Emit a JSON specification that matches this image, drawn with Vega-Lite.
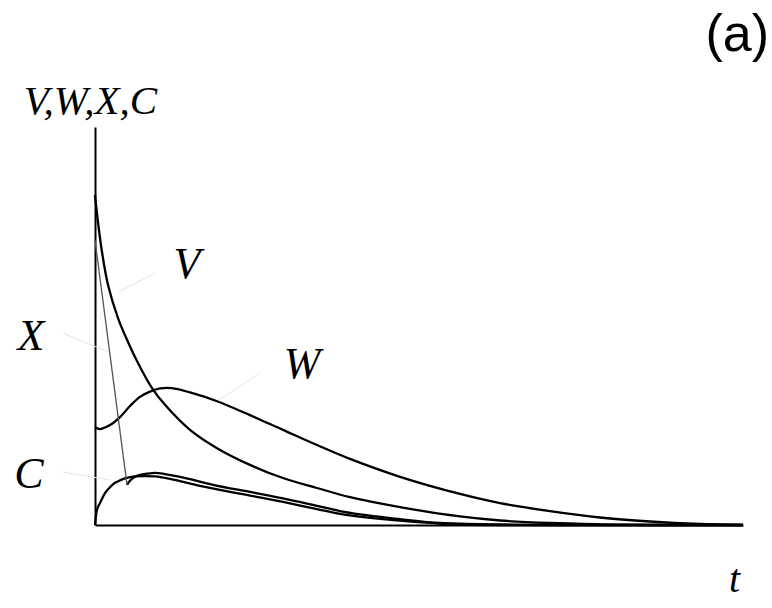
{
  "$schema": "https://vega.github.io/schema/vega-lite/v6.json",
  "width": 648,
  "height": 398,
  "autosize": {"type": "none"},
  "padding": {"left": 95, "top": 127, "right": 29, "bottom": 83},
  "background": "white",
  "config": {
    "view": {"stroke": null},
    "axis": {"grid": false, "ticks": false, "labels": false, "domainColor": "#000", "domainWidth": 2}
  },
  "title": {
    "text": "(a)",
    "anchor": "end",
    "frame": "group",
    "font": "Liberation Sans Narrow, Liberation Sans",
    "fontSize": 52,
    "fontWeight": "normal",
    "color": "#000",
    "baseline": "alphabetic",
    "dx": 26,
    "dy": 27
  },
  "datasets": {
    "curves": [
      {"series": "V", "t": 0, "v": 0.829},
      {"series": "V", "t": 0.046, "v": 0.761},
      {"series": "V", "t": 0.108, "v": 0.686},
      {"series": "V", "t": 0.201, "v": 0.603},
      {"series": "V", "t": 0.355, "v": 0.52},
      {"series": "V", "t": 0.509, "v": 0.46},
      {"series": "V", "t": 0.664, "v": 0.407},
      {"series": "V", "t": 0.88, "v": 0.344},
      {"series": "V", "t": 1.08, "v": 0.302},
      {"series": "V", "t": 1.466, "v": 0.239},
      {"series": "V", "t": 1.883, "v": 0.193},
      {"series": "V", "t": 2.392, "v": 0.151},
      {"series": "V", "t": 2.901, "v": 0.118},
      {"series": "V", "t": 3.426, "v": 0.093},
      {"series": "V", "t": 3.935, "v": 0.07},
      {"series": "V", "t": 4.707, "v": 0.045},
      {"series": "V", "t": 5.633, "v": 0.0214},
      {"series": "V", "t": 6.25, "v": 0.0113},
      {"series": "V", "t": 7.022, "v": 0.005},
      {"series": "V", "t": 7.793, "v": 0.0018},
      {"series": "V", "t": 8.565, "v": 0},
      {"series": "V", "t": 10, "v": 0},
      {"series": "W", "t": 0, "v": 0.246},
      {"series": "W", "t": 0.077, "v": 0.241},
      {"series": "W", "t": 0.231, "v": 0.251},
      {"series": "W", "t": 0.386, "v": 0.271},
      {"series": "W", "t": 0.54, "v": 0.299},
      {"series": "W", "t": 0.694, "v": 0.322},
      {"series": "W", "t": 0.849, "v": 0.335},
      {"series": "W", "t": 1.003, "v": 0.343},
      {"series": "W", "t": 1.188, "v": 0.344},
      {"series": "W", "t": 1.466, "v": 0.333},
      {"series": "W", "t": 1.883, "v": 0.311},
      {"series": "W", "t": 2.392, "v": 0.276},
      {"series": "W", "t": 2.901, "v": 0.239},
      {"series": "W", "t": 3.426, "v": 0.201},
      {"series": "W", "t": 3.935, "v": 0.166},
      {"series": "W", "t": 4.707, "v": 0.121},
      {"series": "W", "t": 5.633, "v": 0.078},
      {"series": "W", "t": 6.25, "v": 0.055},
      {"series": "W", "t": 7.022, "v": 0.035},
      {"series": "W", "t": 7.793, "v": 0.0188},
      {"series": "W", "t": 8.565, "v": 0.0088},
      {"series": "W", "t": 9.336, "v": 0.0025},
      {"series": "W", "t": 10, "v": 0},
      {"series": "C", "t": 0, "v": 0},
      {"series": "C", "t": 0.015, "v": 0.023},
      {"series": "C", "t": 0.031, "v": 0.038},
      {"series": "C", "t": 0.077, "v": 0.055},
      {"series": "C", "t": 0.154, "v": 0.08},
      {"series": "C", "t": 0.231, "v": 0.095},
      {"series": "C", "t": 0.309, "v": 0.106},
      {"series": "C", "t": 0.386, "v": 0.112},
      {"series": "C", "t": 0.463, "v": 0.117},
      {"series": "C", "t": 0.617, "v": 0.122},
      {"series": "C", "t": 0.772, "v": 0.123},
      {"series": "C", "t": 0.926, "v": 0.122},
      {"series": "C", "t": 1.157, "v": 0.116},
      {"series": "C", "t": 1.62, "v": 0.098},
      {"series": "C", "t": 2.392, "v": 0.074},
      {"series": "C", "t": 2.901, "v": 0.058},
      {"series": "C", "t": 3.426, "v": 0.04},
      {"series": "C", "t": 3.781, "v": 0.028},
      {"series": "C", "t": 4.707, "v": 0.011},
      {"series": "C", "t": 5.324, "v": 0.0038},
      {"series": "C", "t": 6.25, "v": 0},
      {"series": "C", "t": 10, "v": 0},
      {"series": "X", "t": 0.494, "v": 0.101},
      {"series": "X", "t": 0.54, "v": 0.111},
      {"series": "X", "t": 0.617, "v": 0.121},
      {"series": "X", "t": 0.694, "v": 0.126},
      {"series": "X", "t": 0.802, "v": 0.129},
      {"series": "X", "t": 0.926, "v": 0.131},
      {"series": "X", "t": 1.08, "v": 0.128},
      {"series": "X", "t": 1.312, "v": 0.121},
      {"series": "X", "t": 1.821, "v": 0.101},
      {"series": "X", "t": 2.392, "v": 0.083},
      {"series": "X", "t": 2.901, "v": 0.067},
      {"series": "X", "t": 3.426, "v": 0.048},
      {"series": "X", "t": 3.781, "v": 0.035},
      {"series": "X", "t": 4.707, "v": 0.015},
      {"series": "X", "t": 5.324, "v": 0.005},
      {"series": "X", "t": 6.25, "v": 0.0013},
      {"series": "X", "t": 7.022, "v": 0},
      {"series": "X", "t": 10, "v": 0},
      {"series": "Xdrop", "t": 0, "v": 0.716},
      {"series": "Xdrop", "t": 0.494, "v": 0.101}
    ],
    "labels": [
      {"label": "V", "t": 1.42, "v": 0.621},
      {"label": "W", "t": 3.194, "v": 0.369},
      {"label": "X", "t": -0.988, "v": 0.44},
      {"label": "C", "t": -1.019, "v": 0.093}
    ],
    "leaders": [
      {"label": "V", "t": 0.926, "v": 0.633, "t2": 0.355, "v2": 0.585},
      {"label": "X", "t": -0.494, "v": 0.482, "t2": 0.201, "v2": 0.435},
      {"label": "W", "t": 2.546, "v": 0.382, "t2": 1.883, "v2": 0.311},
      {"label": "C", "t": -0.494, "v": 0.133, "t2": 0.231, "v2": 0.113}
    ]
  },
  "layer": [
    {
      "data": {"name": "leaders"},
      "mark": {"type": "rule", "stroke": "#e6e6e6", "strokeWidth": 1},
      "encoding": {
        "x": {"field": "t", "type": "quantitative", "scale": {"domain": [0, 10], "nice": false, "zero": false},
              "axis": {"title": "t", "titleFont": "Liberation Serif", "titleFontStyle": "italic", "titleFontWeight": "normal", "titleFontSize": 40, "titleColor": "#000", "titleAngle": 0, "titleAlign": "center", "titleBaseline": "alphabetic", "titleX": 639, "titleY": 66}},
        "y": {"field": "v", "type": "quantitative", "scale": {"domain": [0, 1], "nice": false, "zero": false},
              "axis": {"title": "V,W,X,C", "titleFont": "Liberation Serif", "titleFontStyle": "italic", "titleFontWeight": "normal", "titleFontSize": 41, "titleColor": "#000", "titleAngle": 0, "titleAlign": "center", "titleBaseline": "alphabetic", "titleX": -5, "titleY": -14}},
        "x2": {"field": "t2"},
        "y2": {"field": "v2"}
      }
    },
    {
      "data": {"name": "curves"},
      "transform": [{"filter": "datum.series === 'V' || datum.series === 'W'"}],
      "mark": {"type": "line", "interpolate": "catmull-rom", "stroke": "#000", "strokeWidth": 2.3},
      "encoding": {
        "x": {"field": "t", "type": "quantitative"},
        "y": {"field": "v", "type": "quantitative"},
        "detail": {"field": "series"},
        "order": {"field": "t", "type": "quantitative"}
      }
    },
    {
      "data": {"name": "curves"},
      "transform": [{"filter": "datum.series === 'C' || datum.series === 'X'"}],
      "mark": {"type": "line", "interpolate": "monotone", "stroke": "#000", "strokeWidth": 2.3},
      "encoding": {
        "x": {"field": "t", "type": "quantitative"},
        "y": {"field": "v", "type": "quantitative"},
        "detail": {"field": "series"},
        "order": {"field": "t", "type": "quantitative"}
      }
    },
    {
      "data": {"name": "curves"},
      "transform": [{"filter": "datum.series === 'Xdrop'"}],
      "mark": {"type": "line", "stroke": "#555", "strokeWidth": 1.3},
      "encoding": {
        "x": {"field": "t", "type": "quantitative"},
        "y": {"field": "v", "type": "quantitative"},
        "order": {"field": "t", "type": "quantitative"}
      }
    },
    {
      "data": {"name": "labels"},
      "mark": {"type": "text", "font": "Liberation Serif", "fontStyle": "italic", "fontSize": 44, "color": "#000", "align": "center", "baseline": "alphabetic"},
      "encoding": {
        "x": {"field": "t", "type": "quantitative"},
        "y": {"field": "v", "type": "quantitative"},
        "text": {"field": "label"}
      }
    }
  ]
}
